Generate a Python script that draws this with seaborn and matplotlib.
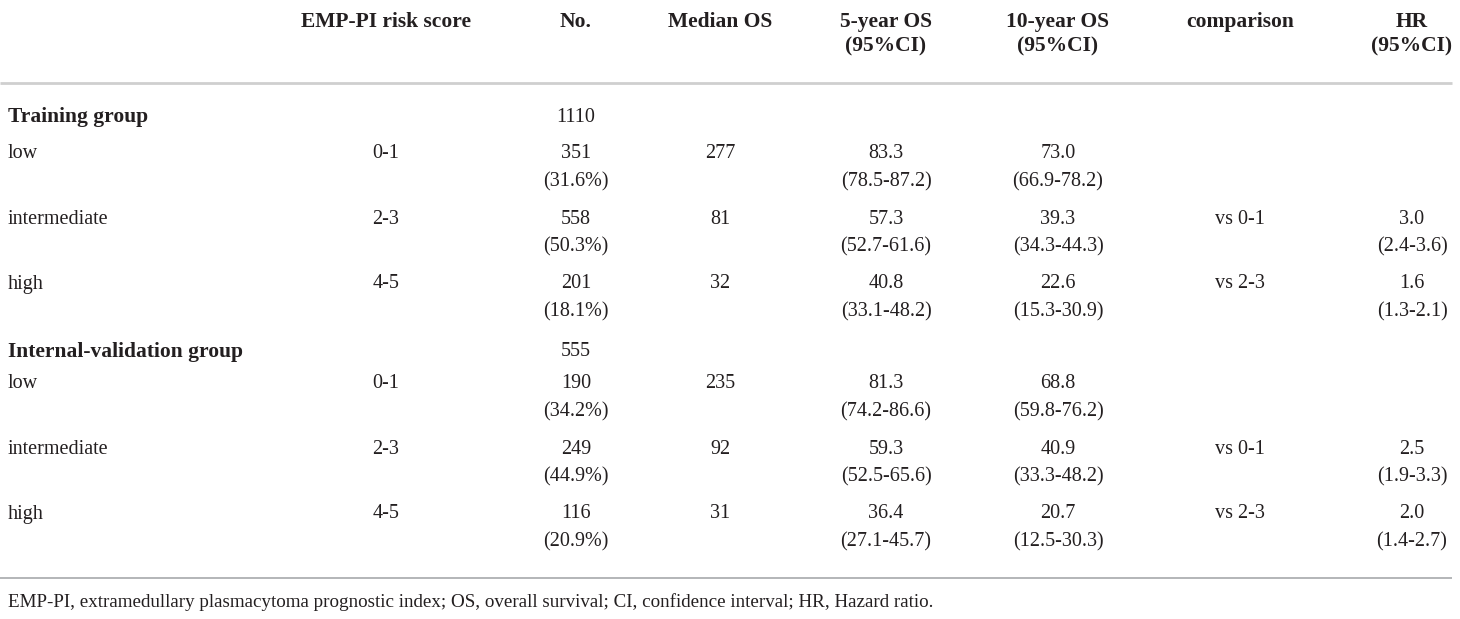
import matplotlib
matplotlib.use("Agg")
import matplotlib.pyplot as plt
import seaborn as sns

# table content
columns = ["EMP-PI risk score", "No.", "Median OS", "5-year OS\n(95%CI)",
           "10-year OS\n(95%CI)", "comparison", "HR\n(95%CI)"]
groups = ["Training group", "Internal-validation group"]
group_n = [1110, 555]
risk_levels = ["low", "intermediate", "high"]
risk_scores = ["0-1", "2-3", "4-5"]
n_counts = [[351, 558, 201], [190, 249, 116]]
n_pct = [[31.6, 50.3, 18.1], [34.2, 44.9, 20.9]]
median_os = [[277, 81, 32], [235, 92, 31]]
os5 = [[83.3, 57.3, 40.8], [81.3, 59.3, 36.4]]
os5_ci = [[(78.5, 87.2), (52.7, 61.6), (33.1, 48.2)],
          [(74.2, 86.6), (52.5, 65.6), (27.1, 45.7)]]
os10 = [[73.0, 39.3, 22.6], [68.8, 40.9, 20.7]]
os10_ci = [[(66.9, 78.2), (34.3, 44.3), (15.3, 30.9)],
           [(59.8, 76.2), (33.3, 48.2), (12.5, 30.3)]]
comparison = ["", "vs 0-1", "vs 2-3"]
hr = [[None, 3.0, 1.6], [None, 2.5, 2.0]]
hr_ci = [[None, (2.4, 3.6), (1.3, 2.1)], [None, (1.9, 3.3), (1.4, 2.7)]]
footnote = ("EMP-PI, extramedullary plasmacytoma prognostic index; OS, overall survival; "
            "CI, confidence interval; HR, Hazard ratio.")

sns.set_theme(style="white")
plt.rcParams["font.family"] = ["Liberation Serif", "DejaVu Serif"]

fig = plt.figure(figsize=(14.6, 6.19), dpi=100)
ax = fig.add_axes([0, 0, 1, 1])
ax.set_xlim(0, 1460)
ax.set_ylim(619, 0)
ax.axis("off")

# layout (pixel positions)
col_x = [386, 576, 720, 886, 1058, 1240, 1412]
left_x = 8
group_y = [117, 352]
row_start = [154, 384]
ink = "#231f20"
body = dict(fontsize=14.5, color=ink, va="center", ha="center")
head = dict(fontsize=15.5, color=ink, va="center", ha="center", fontweight="bold")

# header
for x, label in zip(col_x, columns):
    for j, ln in enumerate(label.split("\n")):
        ax.text(x, 22 + 24 * j, ln, **head)
ax.hlines(83, 0, 1452, color="#cfcfcf", lw=2)

for g, gy in enumerate(group_y):
    ax.text(left_x, gy, groups[g], ha="left", va="center", fontsize=15.5,
            fontweight="bold", color=ink)
    ax.text(col_x[1], gy, str(group_n[g]), **body)
    for i in range(3):
        y1 = row_start[g] + 65 * i
        y2 = y1 + 28
        ax.text(left_x, y1, risk_levels[i], ha="left", va="center",
                fontsize=14.5, color=ink)
        ax.text(col_x[0], y1, risk_scores[i], **body)
        ax.text(col_x[1], y1, str(n_counts[g][i]), **body)
        ax.text(col_x[1], y2, f"({n_pct[g][i]:.1f}%)", **body)
        ax.text(col_x[2], y1, str(median_os[g][i]), **body)
        ax.text(col_x[3], y1, f"{os5[g][i]:.1f}", **body)
        lo, hi = os5_ci[g][i]
        ax.text(col_x[3], y2, f"({lo:.1f}-{hi:.1f})", **body)
        ax.text(col_x[4], y1, f"{os10[g][i]:.1f}", **body)
        lo, hi = os10_ci[g][i]
        ax.text(col_x[4], y2, f"({lo:.1f}-{hi:.1f})", **body)
        if comparison[i]:
            ax.text(col_x[5], y1, comparison[i], **body)
        if hr[g][i] is not None:
            ax.text(col_x[6], y1, f"{hr[g][i]:.1f}", **body)
            lo, hi = hr_ci[g][i]
            ax.text(col_x[6], y2, f"({lo:.1f}-{hi:.1f})", **body)

ax.hlines(578, 0, 1452, color="#a7a9ac", lw=1.2)
ax.text(left_x, 602, footnote, ha="left", va="center", fontsize=13.7, color=ink)

fig.savefig("out.png", dpi=100)
